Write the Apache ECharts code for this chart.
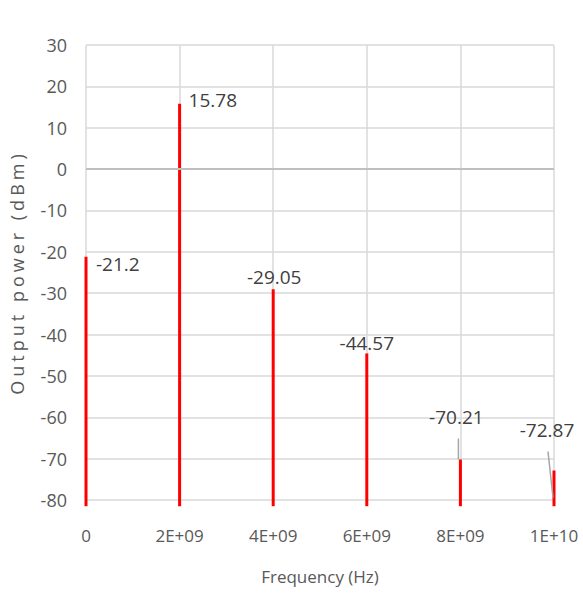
<!DOCTYPE html>
<html>
<head>
<meta charset="utf-8">
<script src="https://cdn.jsdelivr.net/npm/echarts@6/dist/echarts.min.js"></script>
<style>
  html, body { margin: 0; padding: 0; background: #ffffff; }
  #chart { width: 583px; height: 596px; }
</style>
</head>
<body>
<div id="chart"></div>
<script>
// Harmonic spectrum: frequency of each spectral line and its output power
const frequencies = [0, 2e9, 4e9, 6e9, 8e9, 1e10];
const powers = [-21.2, 15.78, -29.05, -44.57, -70.21, -72.87];
const powerLabels = ['-21.2', '15.78', '-29.05', '-44.57', '-70.21', '-72.87'];
// noise floor the spectral lines rise from
const floorLevel = -81.5;

const xTickLabels = ['0', '2E+09', '4E+09', '6E+09', '8E+09', '1E+10'];
const yMin = -80, yMax = 30, yStep = 10;
const xStep = 2e9;

const xTitle = 'Frequency (Hz)';
const yTitle = 'Output power (dBm)';

// label placement relative to the top of each line (pixels)
const labelLayout = [
  { dx: 10, dy: 7, align: 'left' },
  { dx: 9, dy: -4, align: 'left' },
  { dx: 1, dy: -12, align: 'center' },
  { dx: 0, dy: -10, align: 'center' },
  { dx: -4, dy: -43, align: 'center', leader: [[-2, -21], [-2, 0]] },
  { dx: -7, dy: -41, align: 'center', leader: [[-6, -19], [-1, 27]] }
];

const FONT = "'Open Sans', 'Noto Sans', sans-serif";
const AXIS_GREY = '#595959';

const chart = echarts.init(document.getElementById('chart'), null, { renderer: 'svg' });

chart.setOption({
  animation: false,
  backgroundColor: '#ffffff',
  grid: { left: 86, right: 29, top: 45, bottom: 96 },
  xAxis: {
    type: 'value',
    min: 0,
    max: frequencies[frequencies.length - 1],
    interval: xStep,
    name: xTitle,
    nameLocation: 'middle',
    nameGap: 68,
    nameTextStyle: { fontFamily: FONT, fontSize: 17, color: AXIS_GREY },
    axisLine: { show: false },
    axisTick: { show: false },
    axisLabel: {
      margin: 27,
      fontFamily: FONT, fontSize: 17, color: AXIS_GREY,
      formatter: v => xTickLabels[Math.round(v / xStep)]
    },
    splitLine: { show: true, lineStyle: { color: '#d9d9d9', width: 1.5 } }
  },
  yAxis: {
    type: 'value',
    min: yMin,
    max: yMax,
    interval: yStep,
    name: yTitle,
    nameLocation: 'middle',
    nameGap: 60,
    nameTextStyle: { fontFamily: FONT, fontSize: 18, color: AXIS_GREY },
    axisLine: { show: false },
    axisTick: { show: false },
    axisLabel: { margin: 19, fontFamily: FONT, fontSize: 18, color: AXIS_GREY },
    splitLine: { show: true, lineStyle: { color: '#d9d9d9', width: 1.5 } }
  },
  series: [{
    type: 'custom',
    clip: false,
    data: frequencies.map((f, i) => [f, powers[i]]),
    renderItem: (params, api) => {
      const i = params.dataIndex;
      const x = api.value(0);
      const top = api.coord([x, api.value(1)]);
      const bottom = api.coord([x, floorLevel]);
      const L = labelLayout[i];
      const children = [{
        type: 'line',
        shape: { x1: top[0], y1: top[1], x2: bottom[0], y2: bottom[1] },
        style: { stroke: '#ff0000', lineWidth: 3 }
      }];
      if (L.leader) {
        children.push({
          type: 'line',
          shape: {
            x1: top[0] + L.leader[0][0], y1: top[1] + L.leader[0][1],
            x2: top[0] + L.leader[1][0], y2: top[1] + L.leader[1][1]
          },
          style: { stroke: '#a6a6a6', lineWidth: 1.5 }
        });
      }
      children.push({
        type: 'text',
        x: top[0] + L.dx,
        y: top[1] + L.dy,
        style: {
          text: powerLabels[i],
          fill: '#404040',
          fontFamily: FONT,
          fontSize: 19,
          align: L.align,
          verticalAlign: 'middle'
        }
      });
      return { type: 'group', children: children };
    },
    markLine: {
      silent: true,
      symbol: 'none',
      label: { show: false },
      lineStyle: { color: '#bfbfbf', width: 2, type: 'solid' },
      data: [{ yAxis: 0 }]
    }
  }]
});

// spaced-out lettering for the vertical axis title
document.querySelectorAll('#chart text').forEach(t => {
  if (t.textContent === yTitle) {
    t.style.letterSpacing = '4px';
  }
});
</script>
</body>
</html>
